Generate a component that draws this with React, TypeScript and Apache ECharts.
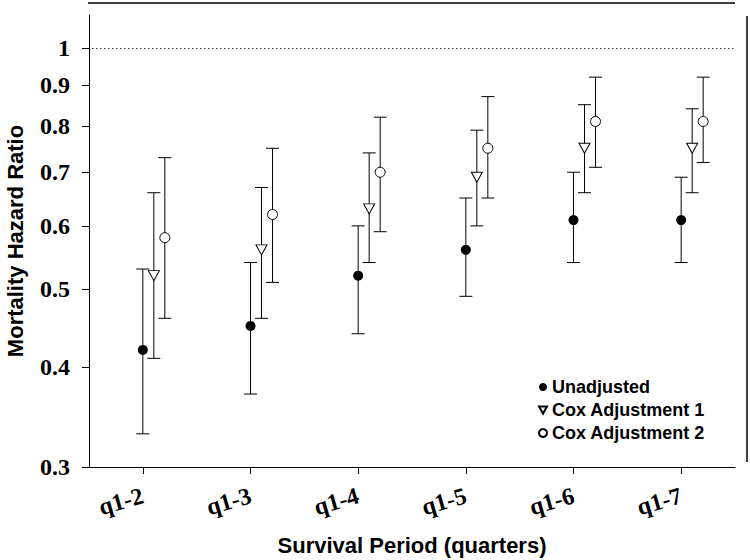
import React, { useEffect, useRef } from "react";
import * as echarts from "echarts";

const categories = ["q1-2", "q1-3", "q1-4", "q1-5", "q1-6", "q1-7"];
const yTicks = [0.3, 0.4, 0.5, 0.6, 0.7, 0.8, 0.9, 1];
const referenceLine = [1];

const unadjusted = [0.42, 0.45, 0.52, 0.56, 0.61, 0.61];
const unadjustedLow = [0.33, 0.37, 0.44, 0.49, 0.54, 0.54];
const unadjustedHigh = [0.53, 0.54, 0.6, 0.65, 0.7, 0.69];

const cox1 = [0.52, 0.56, 0.63, 0.69, 0.75, 0.75];
const cox1Low = [0.41, 0.46, 0.54, 0.6, 0.66, 0.66];
const cox1High = [0.66, 0.67, 0.74, 0.79, 0.85, 0.84];

const cox2 = [0.58, 0.62, 0.7, 0.75, 0.81, 0.81];
const cox2Low = [0.46, 0.51, 0.59, 0.65, 0.71, 0.72];
const cox2High = [0.73, 0.75, 0.82, 0.87, 0.92, 0.92];

const seriesNames = ["Unadjusted", "Cox Adjustment 1", "Cox Adjustment 2"];

const lg = (v: number) => Math.log10(v);

function errorSeries(lows: number[], highs: number[], offset: number) {
  return {
    type: "custom",
    silent: true,
    z: 1,
    data: lows.map((l, i) => [i, lg(l), lg(highs[i])]),
    renderItem: (_params: any, api: any) => {
      const lo = api.coord([api.value(0), api.value(1)]);
      const hi = api.coord([api.value(0), api.value(2)]);
      const x = lo[0] + offset;
      const cap = 6.5;
      const style = { stroke: "#000", lineWidth: 1 };
      return {
        type: "group",
        children: [
          { type: "line", shape: { x1: x, y1: lo[1], x2: x, y2: hi[1] }, style },
          { type: "line", shape: { x1: x - cap, y1: lo[1], x2: x + cap, y2: lo[1] }, style },
          { type: "line", shape: { x1: x - cap, y1: hi[1], x2: x + cap, y2: hi[1] }, style },
        ],
      };
    },
  };
}

export default function App() {
  const ref = useRef<HTMLDivElement>(null);
  useEffect(() => {
    if (!ref.current) return;
    const chart = echarts.init(ref.current, null, { renderer: "svg" });
    const serif = "'Liberation Serif', 'Times New Roman', serif";
    const sans = "'Liberation Sans', Arial, sans-serif";
    const tickVals = yTicks.map(lg);
    chart.setOption({
      animation: false,
      backgroundColor: "#fff",
      grid: { left: 89, right: 15, top: 15, bottom: 93, containLabel: false, outerBoundsMode: "none" },
      legend: {
        data: [
          { name: seriesNames[0], icon: "circle" },
          { name: seriesNames[1], icon: "path://M0,0 L10,0 L5,9 Z" },
          { name: seriesNames[2], icon: "circle" },
        ],
        orient: "vertical",
        left: 538,
        top: 378,
        padding: 0,
        itemWidth: 8,
        itemHeight: 8,
        itemGap: 5,
        textStyle: { fontFamily: sans, fontWeight: "bold", fontSize: 18, color: "#000", lineHeight: 17 },
      },
      xAxis: {
        type: "category",
        data: categories,
        boundaryGap: true,
        name: "Survival Period (quarters)",
        nameLocation: "middle",
        nameGap: 67,
        nameTextStyle: { fontFamily: sans, fontWeight: "bold", fontSize: 22, color: "#000" },
        axisLine: { show: true, onZero: false, lineStyle: { color: "#000", width: 1 } },
        axisTick: { show: true, alignWithLabel: true, length: 7, lineStyle: { color: "#000" } },
        axisLabel: {
          rotate: 16,
          margin: 28,
          fontFamily: serif,
          fontWeight: "bold",
          fontSize: 24,
          color: "#000",
        },
        splitLine: { show: false },
      },
      yAxis: {
        type: "value",
        min: lg(0.3),
        max: lg(1.1),
        name: "Mortality Hazard Ratio",
        nameLocation: "middle",
        nameGap: 63,
        nameTextStyle: { fontFamily: sans, fontWeight: "bold", fontSize: 22, color: "#000" },
        axisLine: { show: true, onZero: false, lineStyle: { color: "#000", width: 1 } },
        axisTick: { show: true, length: 7, customValues: tickVals, lineStyle: { color: "#000" } },
        axisLabel: {
          customValues: tickVals,
          margin: 19,
          padding: [5, 0, 0, 0],
          fontFamily: serif,
          fontWeight: "bold",
          fontSize: 24,
          color: "#000",
          formatter: (v: number) => String(Math.round(Math.pow(10, v) * 10) / 10),
        },
        splitLine: { show: false },
      },
      graphic: [
        { type: "line", shape: { x1: 88, y1: 3, x2: 735, y2: 3 }, style: { stroke: "#000", lineWidth: 1.5 } },
        { type: "line", shape: { x1: 747, y1: 16, x2: 747, y2: 462 }, style: { stroke: "#000", lineWidth: 1.5 } },
      ],
      series: [
        {
          type: "custom",
          silent: true,
          z: 0,
          data: referenceLine.map((v) => [0, lg(v)]),
          renderItem: (params: any, api: any) => {
            const p = api.coord([api.value(0), api.value(1)]);
            const cs = params.coordSys;
            const y = Math.round(p[1]);
            const dots: any[] = [];
            for (let x = Math.round(cs.x) + 3; x < cs.x + cs.width; x += 4) {
              dots.push({ type: "rect", shape: { x, y, width: 1.5, height: 1 }, style: { fill: "#333" } });
            }
            return { type: "group", children: dots };
          },
        },
        errorSeries(unadjustedLow, unadjustedHigh, 0),
        errorSeries(cox1Low, cox1High, 11),
        errorSeries(cox2Low, cox2High, 22),
        {
          type: "scatter",
          name: seriesNames[0],
          z: 3,
          symbol: "circle",
          symbolSize: 10,
          itemStyle: { color: "#000", opacity: 1 },
          data: unadjusted.map((v, i) => [i, lg(v)]),
        },
        {
          type: "scatter",
          name: seriesNames[1],
          z: 3,
          symbol: "triangle",
          symbolRotate: 180,
          symbolSize: [11, 10],
          symbolOffset: [11, 0],
          itemStyle: { color: "#fff", borderColor: "#000", borderWidth: 1, opacity: 1 },
          data: cox1.map((v, i) => [i, lg(v)]),
        },
        {
          type: "scatter",
          name: seriesNames[2],
          z: 3,
          symbol: "circle",
          symbolSize: 10,
          symbolOffset: [22, 0],
          itemStyle: { color: "#fff", borderColor: "#000", borderWidth: 1, opacity: 1 },
          data: cox2.map((v, i) => [i, lg(v)]),
        },
      ],
    });
    return () => chart.dispose();
  }, []);
  return <div ref={ref} style={{ position: "fixed", left: 0, top: 0, width: 750, height: 560 }} />;
}
